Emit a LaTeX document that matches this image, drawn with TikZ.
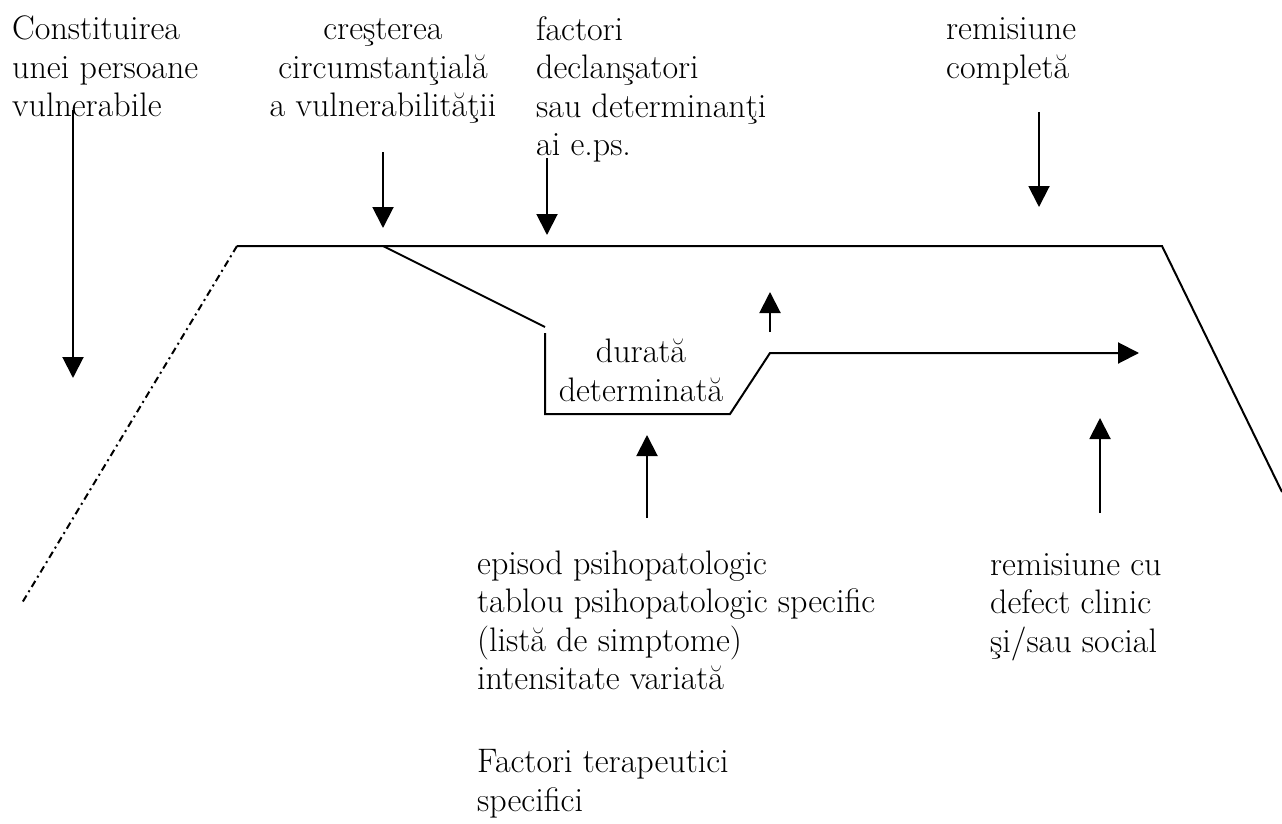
\documentclass[tikz,border=0pt]{standalone}
\usepackage{fontspec}
\usetikzlibrary{arrows.meta}
\begin{document}
\begin{tikzpicture}[x=1pt,y=-1pt,
  every node/.style={inner sep=0pt, font=\fontsize{34}{38.5}\selectfont},
  % multi-line labels are placed by the baseline of their last line
  lbl/.style={align=left, anchor=base west},
  clbl/.style={align=center, anchor=base},
  curve/.style={line width=2pt},
  dashdotline/.style={line width=2pt, dash pattern=on 7pt off 4pt on 2pt off 4pt},
  pointer/.style={line width=2pt, -{Triangle[length=21pt,width=21pt]}},
]
\useasboundingbox (0,0) rectangle (1282,824);

% labels
\node[lbl]  (vuln)  at (12,117)   {Constituirea\\unei persoane\\vulnerabile};
\node[clbl] (cresc) at (383,117)  {creşterea\\circumstanţială\\a vulnerabilităţii};
\node[lbl]  (fact)  at (536,155.5) {factori\\declanşatori\\sau determinanţi\\ai e.ps.};
\node[lbl]  (remc)  at (946,78.5) {remisiune\\completă};
\node[clbl] (dur)   at (641,401)  {durată\\determinată};
\node[lbl]  (epis)  at (477,689.5) {episod psihopatologic\\tablou psihopatologic specific\\(listă de simptome)\\intensitate variată};
\node[lbl]  (terap) at (477,811)  {Factori terapeutici\\specifici};
\node[lbl]  (remd)  at (990,652)  {remisiune cu\\defect clinic\\şi/sau social};

% outline of the course
\coordinate (tl) at (237,246);
\coordinate (tr) at (1162,246);
\coordinate (dl) at (22,603);
\coordinate (dr) at (1282,492);
\draw[dashdotline] (tl) -- (dl);
\draw[curve] (tl) -- (tr) -- (dr);

% episode branch
\coordinate (fork)    at (383,246);
\coordinate (dropEnd) at (545,327);
\coordinate (epTop)   at (545,333);
\coordinate (epBL)    at (545,414);
\coordinate (epBR)    at (730,414);
\coordinate (epUp)    at (770,353);
\coordinate (epEnd)   at (1139,353);
\draw[curve] (fork) -- (dropEnd);
\draw[pointer] (epTop) -- (epBL) -- (epBR) -- (epUp) -- (epEnd);

% pointers
\coordinate (a1s) at (73,110);   \coordinate (a1e) at (73,378);
\coordinate (a2s) at (383,152);  \coordinate (a2e) at (383,228);
\coordinate (a3s) at (547,158);  \coordinate (a3e) at (547,235);
\coordinate (a4s) at (1039,112); \coordinate (a4e) at (1039,207);
\coordinate (a5s) at (770,332);  \coordinate (a5e) at (770,292);
\coordinate (a6s) at (647,518);  \coordinate (a6e) at (647,435);
\coordinate (a7s) at (1100,513); \coordinate (a7e) at (1100,418);
\foreach \i in {1,...,7} \draw[pointer] (a\i s) -- (a\i e);
\end{tikzpicture}
\end{document}
